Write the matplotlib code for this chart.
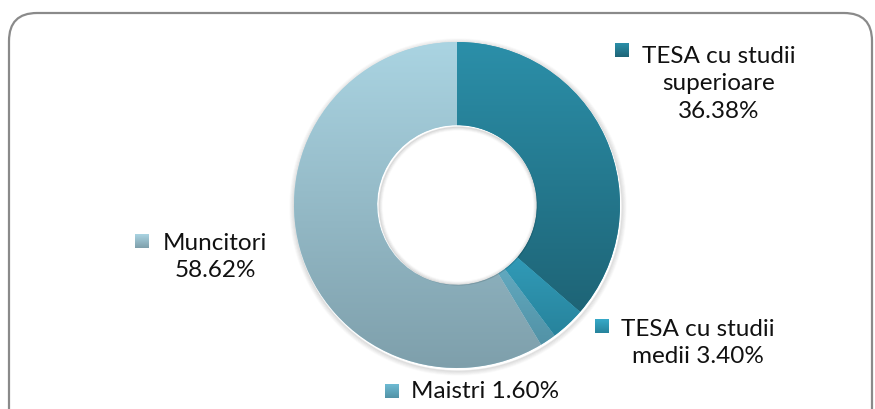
import numpy as np
import matplotlib
matplotlib.use('Agg')
import matplotlib.pyplot as plt
from matplotlib.patches import FancyBboxPatch
from matplotlib.colors import LinearSegmentedColormap

# data
categories = ['TESA cu studii superioare', 'TESA cu studii medii', 'Maistri', 'Muncitori']
values = [36.38, 3.40, 1.60, 58.62]
label_texts = ['TESA cu studii\nsuperioare\n36.38%', 'TESA cu studii\nmedii 3.40%',
               'Maistri 1.60%', 'Muncitori\n58.62%']
# gradient top / bottom colours per slice
top_cols = ['#2b8fa9', '#37aac9', '#6ebbd3', '#aad4e2']
bot_cols = ['#1e6476', '#27839c', '#5292a6', '#7e9fab']

W, H = 875, 409
fig = plt.figure(figsize=(W / 100, H / 100), dpi=100)
ax = fig.add_axes([0, 0, 1, 1])

# rounded frame
frame = FancyBboxPatch((9, -30), 863, 409 - 13 + 30,
                       boxstyle='round,pad=0,rounding_size=28',
                       fc='white', ec='#8a8a8a', lw=1.6, zorder=0)
ax.add_patch(frame)

cx, cy, R = 457, 204, 163
ring = 0.51

# soft shadow around the donut
for k, a in zip(range(1, 6), [0.10, 0.08, 0.06, 0.04, 0.02]):
    ax.add_patch(plt.Circle((cx + 1, cy - 2), R + k, fc='none', ec='black', lw=1.0,
                            alpha=a, zorder=1))

wedges, _ = ax.pie(values, center=(cx, cy), radius=R, startangle=90, counterclock=False,
                   wedgeprops=dict(width=R * ring, edgecolor='none', lw=0),
                   frame=False)

grad = np.linspace(0, 1, 256).reshape(-1, 1)
for w, c0, c1 in zip(wedges, top_cols, bot_cols):
    w.set_zorder(2)
    w.set_facecolor(c0)
    pts = w.get_patch_transform().transform(w.get_path().vertices)
    x0, y0 = pts.min(axis=0)
    x1, y1 = pts.max(axis=0)
    cmap = LinearSegmentedColormap.from_list('g', [c0, c1])
    im = ax.imshow(grad, cmap=cmap, extent=(x0, x1, y0, y1), aspect='auto',
                   interpolation='bilinear', zorder=3)
    im.set_clip_path(w)

# inner shadow in the hole
r_in = R * (1 - ring)
for k, a in zip(range(1, 5), [0.12, 0.08, 0.05, 0.02]):
    ax.add_patch(plt.Circle((cx + 1, cy - 1), r_in - k, fc='none', ec='black', lw=1.0,
                            alpha=a, zorder=4))

# labels (marker box left of first line, text centred)
marker_pos = [(615, 352), (595, 76), (385, 11), (135, 161)]
text_pos = [(719, 325), (698, 66), (485, 17), (215, 152)]
for (mx, my), (tx, ty), t, c0, c1 in zip(marker_pos, text_pos, label_texts, top_cols, bot_cols):
    cmap = LinearSegmentedColormap.from_list('g', [c0, c1])
    ax.imshow(grad, cmap=cmap, extent=(mx, mx + 14, my, my + 14), aspect='auto', zorder=5)
    ax.text(tx, ty, t, ha='center', va='center', multialignment='center',
            fontsize=17.5, family='Lato', color='#111111', linespacing=1.38, zorder=6)

ax.set_xlim(0, W)
ax.set_ylim(0, H)
ax.set_aspect('equal')
ax.axis('off')
fig.savefig('out.png', dpi=100)
